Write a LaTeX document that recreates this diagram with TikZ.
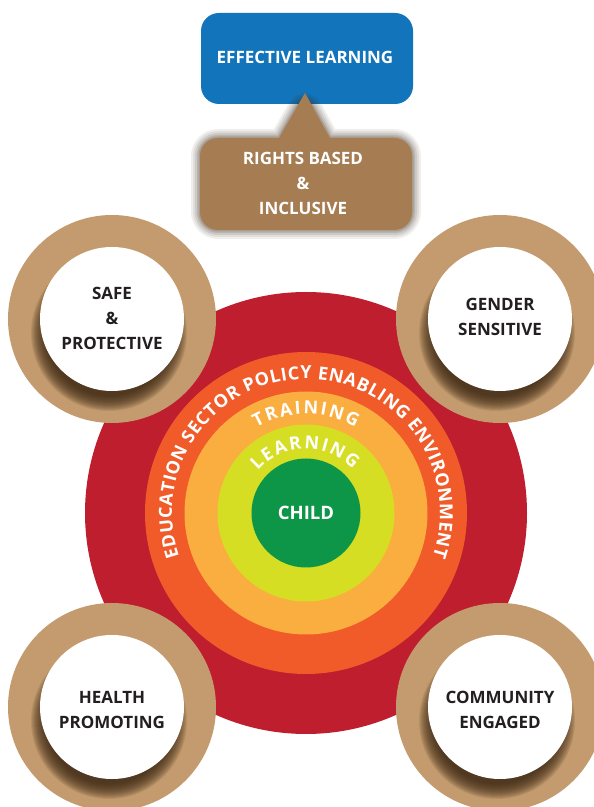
\documentclass[tikz,border=0pt]{standalone}
\usepackage{fontspec}
\setmainfont{Open Sans}
\usetikzlibrary{decorations.text,calc}
\definecolor{redc}{RGB}{190,30,45}
\definecolor{orangec}{RGB}{241,90,41}
\definecolor{lorangec}{RGB}{250,174,64}
\definecolor{ygreenc}{RGB}{214,222,35}
\definecolor{greenc}{RGB}{14,150,72}
\definecolor{ringc}{RGB}{195,155,110}
\definecolor{boxbrownc}{RGB}{166,124,82}
\definecolor{bluec}{RGB}{18,116,186}
\definecolor{shadowc}{RGB}{60,40,20}
\definecolor{darktext}{RGB}{35,31,32}
\newcommand{\curvefont}{\fontsize{18}{18}\selectfont\bfseries}
\begin{document}
\begin{tikzpicture}[x=1pt,y=1pt,
  lbl/.style={text=darktext, font=\fontsize{17}{25}\selectfont\bfseries, align=center, inner sep=0pt},
  wlbl/.style={text=white, font=\fontsize{17}{25}\selectfont\bfseries, align=center, inner sep=0pt},
  arctext/.style={decorate, decoration={text along path, text align=fit to path, text color=white, text={#1}}}]
\useasboundingbox (0,0) rectangle (594,807);
\clip (0,0) rectangle (594,807);
\fill[white] (0,0) rectangle (594,807);
\coordinate (c) at (306,294);
% concentric circles
\fill[redc] (c) circle[radius=221pt];
\fill[orangec] (c) circle[radius=161pt];
\fill[lorangec] (c) circle[radius=121.5pt];
\fill[ygreenc] (c) circle[radius=88.5pt];
\fill[greenc] (c) circle[radius=54.5pt];
\node[wlbl, font=\fontsize{18.5}{20}\selectfont\bfseries] (child) at (c) {CHILD};
% curved texts
\path[arctext={|\curvefont|EDUCATION SECTOR POLICY ENABLING ENVIRONMENT}]
  ($(c)+(199:134pt)$) arc[start angle=199, end angle=-19, radius=134pt];
\path[arctext={|\curvefont|TRAINING}]
  ($(c)+(120:99pt)$) arc[start angle=120, end angle=60, radius=99pt];
\path[arctext={|\curvefont|LEARNING}]
  ($(c)+(139:64pt)$) arc[start angle=139, end angle=43, radius=64pt];
% rings
\foreach \x/\y in {112/488, 500/488, 112/100, 500/100} {
  \fill[ringc] (\x,\y) circle[radius=104pt];
  \begin{scope}
    \clip (\x,\y) circle[radius=104pt];
    \foreach \k in {1,...,16}
      \fill[shadowc, opacity=0.1] (\x-3,\y-14) circle[radius={(62+\k)*1pt}];
  \end{scope}
  \fill[white] (\x,\y) circle[radius=72pt];
}
\node[lbl] (safe) at (112,489) {SAFE\\\&\\PROTECTIVE};
\node[lbl] (gender) at (500,490.5) {GENDER\\SENSITIVE};
\node[lbl] (health) at (112,97.5) {HEALTH\\PROMOTING};
\node[lbl] (community) at (500,97.5) {COMMUNITY\\ENGAGED};
% top boxes
\fill[bluec, rounded corners=18pt] (201,703) rectangle (413,794);
\node[wlbl] (effective) at (305,750) {EFFECTIVE LEARNING};
\foreach \w/\o in {18/0.07, 14/0.09, 10/0.11, 6/0.13, 3/0.15}
  \draw[shadowc, opacity=\o, line width=\w pt, rounded corners=18pt, line join=round]
    (200,577) rectangle (412,669) (279,669) -- (305,714) -- (330,669);
\fill[boxbrownc, rounded corners=18pt] (200,577) rectangle (412,669);
\fill[boxbrownc] (279,660) -- (279,669) -- (305,714) -- (330,669) -- (330,660) -- cycle;
\node[wlbl] (rights) at (303,624) {RIGHTS BASED\\\&\\INCLUSIVE};
\end{tikzpicture}
\end{document}
